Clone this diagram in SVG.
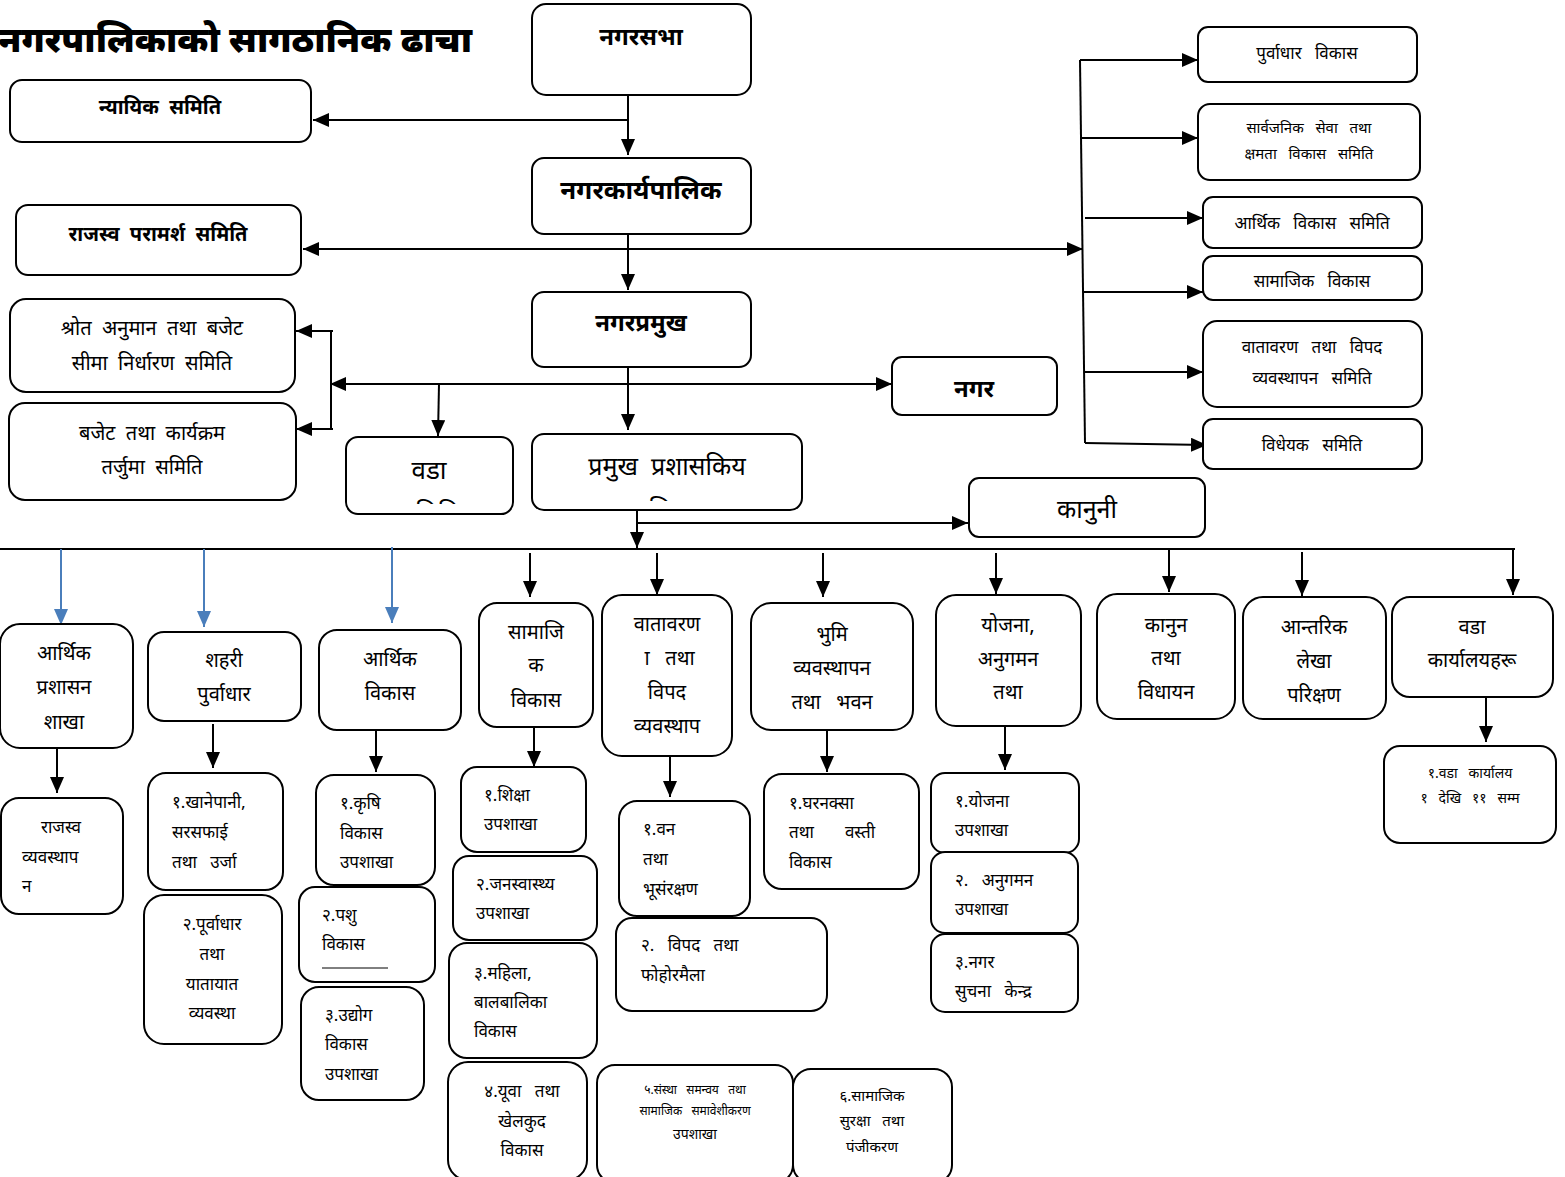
<svg xmlns="http://www.w3.org/2000/svg" width="1565" height="1177" viewBox="0 0 1565 1177">
<style>
.b{fill:#fff;stroke:#000;stroke-width:2}
text{font-family:"Noto Sans Devanagari","Lohit Devanagari","Noto Serif Devanagari","Noto Sans","DejaVu Sans",sans-serif;fill:#000;white-space:pre}
.c{text-anchor:middle}
.l{text-anchor:start}
.bd{font-weight:bold}
.f24{font-size:24px}
.f20{font-size:20px}
.f18{font-size:18px}
.f17{font-size:17px}
.f16{font-size:16px}
.f15{font-size:15px}
.f14{font-size:14px}
.f12{font-size:12px}
.k{stroke:#000;stroke-width:2;fill:none}
.u{stroke:#4a7ebb;stroke-width:2;fill:none}
</style>
<defs>
<marker id="a" markerUnits="userSpaceOnUse" markerWidth="16" markerHeight="14" refX="16" refY="7" orient="auto"><path d="M0,0L16,7L0,14z" fill="#000"/></marker>
<marker id="s" markerUnits="userSpaceOnUse" markerWidth="16" markerHeight="14" refX="0" refY="7" orient="auto"><path d="M16,0L0,7L16,14z" fill="#000"/></marker>
<marker id="ab" markerUnits="userSpaceOnUse" markerWidth="16" markerHeight="14" refX="16" refY="7" orient="auto"><path d="M0,0L16,7L0,14z" fill="#4a7ebb"/></marker>
<clipPath id="cw"><rect x="347" y="438" width="165" height="66"/></clipPath>
<clipPath id="cp"><rect x="533" y="435" width="268" height="66"/></clipPath>
</defs>
<rect width="1565" height="1177" fill="#fff"/>
<text x="-2" y="52" class="l bd" style="font-size:35px;font-weight:900" textLength="474" lengthAdjust="spacingAndGlyphs">नगरपालिकाको सागठानिक ढाचा</text>

<g id="connectors">
<path class="k" d="M628,95V155" marker-end="url(#a)"/>
<path class="k" d="M628,120H313" marker-end="url(#a)"/>
<path class="k" d="M628,234V290" marker-end="url(#a)"/>
<path class="k" d="M303,249H1083" marker-start="url(#s)" marker-end="url(#a)"/>
<path class="k" d="M1080,60L1085,443"/>
<path class="k" d="M1080,60H1198" marker-end="url(#a)"/>
<path class="k" d="M1081,138H1198" marker-end="url(#a)"/>
<path class="k" d="M1085,218H1203" marker-end="url(#a)"/>
<path class="k" d="M1083,292H1203" marker-end="url(#a)"/>
<path class="k" d="M1084,372H1203" marker-end="url(#a)"/>
<path class="k" d="M1085,443L1207,445" marker-end="url(#a)"/>
<path class="k" d="M628,367V430" marker-end="url(#a)"/>
<path class="k" d="M330,384H892" marker-start="url(#s)" marker-end="url(#a)"/>
<path class="k" d="M331,331V429"/>
<path class="k" d="M333,331H296" marker-end="url(#a)"/>
<path class="k" d="M333,429H296" marker-end="url(#a)"/>
<path class="k" d="M439,384L438,436" marker-end="url(#a)"/>
<path class="k" d="M637,505V548" marker-end="url(#a)"/>
<path class="k" d="M637,523H968" marker-end="url(#a)"/>
<path class="k" d="M0,549H1515"/>
<path class="u" d="M61,549V625" marker-end="url(#ab)"/>
<path class="u" d="M204,549V627" marker-end="url(#ab)"/>
<path class="u" d="M392,547V623" marker-end="url(#ab)"/>
<path class="k" d="M530,553V597" marker-end="url(#a)"/>
<path class="k" d="M657,553V595" marker-end="url(#a)"/>
<path class="k" d="M823,553V597" marker-end="url(#a)"/>
<path class="k" d="M996,553V594" marker-end="url(#a)"/>
<path class="k" d="M1169,550V592" marker-end="url(#a)"/>
<path class="k" d="M1302,552V596" marker-end="url(#a)"/>
<path class="k" d="M1513,550V595" marker-end="url(#a)"/>
<path class="k" d="M57,748V793" marker-end="url(#a)"/>
<path class="k" d="M213,724V768" marker-end="url(#a)"/>
<path class="k" d="M376,727V772" marker-end="url(#a)"/>
<path class="k" d="M534,724V767" marker-end="url(#a)"/>
<path class="k" d="M670,752V797" marker-end="url(#a)"/>
<path class="k" d="M827,729V772" marker-end="url(#a)"/>
<path class="k" d="M1005,727V770" marker-end="url(#a)"/>
<path class="k" d="M1486,698V742" marker-end="url(#a)"/>
</g>

<g id="n-nagarsabha"><rect class="b" x="532" y="4" width="219" height="91" rx="14"/><text x="641" y="45" class="c bd f24">नगरसभा</text></g>
<g id="n-nyayik"><rect class="b" x="10" y="80" width="301" height="62" rx="12"/><text x="160" y="114" class="c bd f20">न्यायिक  समिति</text></g>
<g id="n-karyapalika"><rect class="b" x="532" y="158" width="219" height="76" rx="12"/><text x="641" y="199" class="c bd" style="font-size:26px">नगरकार्यपालिक</text></g>
<g id="n-rajasva"><rect class="b" x="16" y="205" width="285" height="70" rx="12"/><text x="158" y="241" class="c bd f20">राजस्व  परामर्श  समिति</text></g>
<g id="n-pramukh"><rect class="b" x="532" y="292" width="219" height="75" rx="12"/><text x="641" y="331" class="c bd f24">नगरप्रमुख</text></g>
<g id="n-shrot"><rect class="b" x="10" y="299" width="285" height="93" rx="16"/><text x="152" y="335" class="c f20">श्रोत  अनुमान  तथा  बजेट</text><text x="152" y="370" class="c f20">सीमा  निर्धारण  समिति</text></g>
<g id="n-bajet"><rect class="b" x="9" y="403" width="287" height="97" rx="16"/><text x="152" y="440" class="c f20">बजेट  तथा  कार्यक्रम</text><text x="152" y="474" class="c f20">तर्जुमा  समिति</text></g>
<g id="n-nagar"><rect class="b" x="892" y="357" width="165" height="58" rx="10"/><text x="974" y="397" class="c bd f24">नगर</text></g>
<g id="n-wada"><rect class="b" x="346" y="437" width="167" height="77" rx="12"/><text x="429" y="479" class="c" style="font-size:26px">वडा</text><text x="429" y="522" class="c" style="font-size:26px" clip-path="url(#cw)">समिति</text></g>
<g id="n-cao"><rect class="b" x="532" y="434" width="270" height="76" rx="12"/><text x="667" y="475" class="c" style="font-size:25px">प्रमुख  प्रशासकिय</text><text x="667" y="519" class="c" style="font-size:25px" clip-path="url(#cp)">अधिकृत</text></g>
<g id="n-kanuni"><rect class="b" x="969" y="478" width="236" height="59" rx="10"/><text x="1087" y="518" class="c" style="font-size:25px">कानुनी</text></g>

<g id="n-r1"><rect class="b" x="1198" y="27" width="219" height="55" rx="10"/><text x="1307" y="59" class="c f17">पुर्वाधार   विकास</text></g>
<g id="n-r2"><rect class="b" x="1198" y="104" width="222" height="76" rx="12"/><text x="1309" y="133" class="c f15">सार्वजनिक   सेवा   तथा</text><text x="1309" y="159" class="c f15">क्षमता   विकास   समिति</text></g>
<g id="n-r3"><rect class="b" x="1203" y="197" width="219" height="51" rx="10"/><text x="1312" y="229" class="c f17">आर्थिक   विकास   समिति</text></g>
<g id="n-r4"><rect class="b" x="1203" y="256" width="219" height="44" rx="10"/><text x="1312" y="287" class="c f17">सामाजिक   विकास</text></g>
<g id="n-r5"><rect class="b" x="1203" y="321" width="219" height="86" rx="14"/><text x="1312" y="353" class="c f17">वातावरण   तथा   विपद</text><text x="1312" y="384" class="c f17">व्यवस्थापन   समिति</text></g>
<g id="n-r6"><rect class="b" x="1203" y="419" width="219" height="50" rx="10"/><text x="1312" y="451" class="c f17">विधेयक   समिति</text></g>

<g id="n-b1"><rect class="b" x="0" y="624" width="133" height="124" rx="20"/><text x="64" y="660" class="c f20">आर्थिक</text><text x="64" y="694" class="c f20">प्रशासन</text><text x="64" y="729" class="c f20">शाखा</text></g>
<g id="n-b2"><rect class="b" x="148" y="632" width="153" height="89" rx="16"/><text x="224" y="667" class="c f20">शहरी</text><text x="224" y="701" class="c f20">पुर्वाधार</text></g>
<g id="n-b3"><rect class="b" x="319" y="630" width="142" height="100" rx="18"/><text x="390" y="666" class="c f20">आर्थिक</text><text x="390" y="700" class="c f20">विकास</text></g>
<g id="n-b4"><rect class="b" x="479" y="603" width="114" height="124" rx="18"/><text x="536" y="639" class="c f20">सामाजि</text><text x="536" y="672" class="c f20">क</text><text x="536" y="707" class="c f20">विकास</text></g>
<g id="n-b5"><rect class="b" x="602" y="595" width="130" height="161" rx="20"/><text x="667" y="631" class="c f20">वातावरण</text><text x="667" y="665" class="c f20">&#160;ा   तथा</text><text x="667" y="699" class="c f20">विपद</text><text x="667" y="733" class="c f20">व्यवस्थाप</text></g>
<g id="n-b6"><rect class="b" x="751" y="603" width="162" height="127" rx="20"/><text x="832" y="641" class="c f20">भुमि</text><text x="832" y="675" class="c f20">व्यवस्थापन</text><text x="832" y="709" class="c f20">तथा   भवन</text></g>
<g id="n-b7"><rect class="b" x="936" y="595" width="145" height="131" rx="20"/><text x="1008" y="632" class="c f20">योजना,</text><text x="1008" y="666" class="c f20">अनुगमन</text><text x="1008" y="699" class="c f20">तथा</text></g>
<g id="n-b8"><rect class="b" x="1097" y="594" width="138" height="125" rx="20"/><text x="1166" y="632" class="c f20">कानुन</text><text x="1166" y="665" class="c f20">तथा</text><text x="1166" y="699" class="c f20">विधायन</text></g>
<g id="n-b9"><rect class="b" x="1243" y="597" width="143" height="122" rx="20"/><text x="1314" y="634" class="c f20">आन्तरिक</text><text x="1314" y="668" class="c f20">लेखा</text><text x="1314" y="702" class="c f20">परिक्षण</text></g>
<g id="n-b10"><rect class="b" x="1392" y="597" width="161" height="100" rx="18"/><text x="1472" y="634" class="c f20">वडा</text><text x="1472" y="667" class="c f20">कार्यालयहरू</text></g>

<g id="n-s1"><rect class="b" x="1" y="798" width="122" height="116" rx="18"/><text x="61" y="833" class="c f17">राजस्व</text><text x="22" y="863" class="l f17">व्यवस्थाप</text><text x="22" y="892" class="l f17">न</text></g>
<g id="n-s2"><rect class="b" x="148" y="773" width="135" height="117" rx="18"/><text x="172" y="808" class="l f17">१.खानेपानी,</text><text x="172" y="838" class="l f17">सरसफाई</text><text x="172" y="868" class="l f17">तथा   उर्जा</text></g>
<g id="n-s3"><rect class="b" x="144" y="895" width="138" height="149" rx="20"/><text x="212" y="930" class="c f17">२.पूर्वाधार</text><text x="212" y="960" class="c f17">तथा</text><text x="212" y="990" class="c f17">यातायात</text><text x="212" y="1019" class="c f17">व्यवस्था</text></g>
<g id="n-s4"><rect class="b" x="316" y="775" width="119" height="110" rx="18"/><text x="340" y="809" class="l f17">१.कृषि</text><text x="340" y="839" class="l f17">विकास</text><text x="340" y="868" class="l f17">उपशाखा</text></g>
<g id="n-s5"><rect class="b" x="299" y="887" width="136" height="95" rx="16"/><text x="322" y="921" class="l f17">२.पशु</text><text x="322" y="950" class="l f17">विकास</text><line x1="322" y1="968" x2="388" y2="968" stroke="#000" stroke-width="1"/></g>
<g id="n-s6"><rect class="b" x="301" y="987" width="123" height="113" rx="18"/><text x="325" y="1021" class="l f17">३.उद्योग</text><text x="325" y="1050" class="l f17">विकास</text><text x="325" y="1080" class="l f17">उपशाखा</text></g>
<g id="n-s7"><rect class="b" x="461" y="767" width="125" height="85" rx="16"/><text x="484" y="801" class="l f17">१.शिक्षा</text><text x="484" y="830" class="l f17">उपशाखा</text></g>
<g id="n-s8"><rect class="b" x="453" y="856" width="144" height="84" rx="16"/><text x="476" y="890" class="l f17">२.जनस्वास्थ्य</text><text x="476" y="919" class="l f17">उपशाखा</text></g>
<g id="n-s9"><rect class="b" x="449" y="943" width="148" height="115" rx="18"/><text x="474" y="979" class="l f17">३.महिला,</text><text x="474" y="1008" class="l f17">बालबालिका</text><text x="474" y="1037" class="l f17">विकास</text></g>
<g id="n-s10"><rect class="b" x="448" y="1062" width="139" height="118" rx="20"/><text x="522" y="1097" class="c f17">४.यूवा   तथा</text><text x="522" y="1127" class="c f17">खेलकुद</text><text x="522" y="1156" class="c f17">विकास</text></g>
<g id="n-s11"><rect class="b" x="597" y="1065" width="196" height="118" rx="18"/><text x="695" y="1094" class="c f12">५.संस्था   समन्वय   तथा</text><text x="695" y="1115" class="c f12">सामाजिक   समावेशीकरण</text><text x="695" y="1139" class="c f14">उपशाखा</text></g>
<g id="n-s12"><rect class="b" x="793" y="1069" width="159" height="114" rx="18"/><text x="872" y="1101" class="c f15">६.सामाजिक</text><text x="872" y="1126" class="c f15">सुरक्षा   तथा</text><text x="872" y="1152" class="c f15">पंजीकरण</text></g>
<g id="n-s13"><rect class="b" x="619" y="801" width="131" height="115" rx="18"/><text x="643" y="835" class="l f17">१.वन</text><text x="643" y="865" class="l f17">तथा</text><text x="643" y="895" class="l f17">भूसंरक्षण</text></g>
<g id="n-s14"><rect class="b" x="616" y="918" width="211" height="93" rx="16"/><text x="641" y="951" class="l f17">२.   विपद   तथा</text><text x="641" y="981" class="l f17">फोहोरमैला</text></g>
<g id="n-s15"><rect class="b" x="764" y="774" width="155" height="115" rx="18"/><text x="789" y="809" class="l f17">१.घरनक्सा</text><text x="789" y="838" class="l f17">तथा       वस्ती</text><text x="789" y="868" class="l f17">विकास</text></g>
<g id="n-s16"><rect class="b" x="931" y="773" width="148" height="80" rx="14"/><text x="955" y="807" class="l f17">१.योजना</text><text x="955" y="836" class="l f17">उपशाखा</text></g>
<g id="n-s17"><rect class="b" x="931" y="852" width="147" height="81" rx="14"/><text x="955" y="886" class="l f17">२.   अनुगमन</text><text x="955" y="915" class="l f17">उपशाखा</text></g>
<g id="n-s18"><rect class="b" x="931" y="934" width="147" height="78" rx="14"/><text x="955" y="968" class="l f17">३.नगर</text><text x="955" y="997" class="l f17">सुचना   केन्द्र</text></g>
<g id="n-s19"><rect class="b" x="1384" y="746" width="172" height="97" rx="16"/><text x="1470" y="778" class="c f14">१.वडा   कार्यालय</text><text x="1470" y="803" class="c f14">१   देखि   ११   सम्म</text></g>
</svg>
